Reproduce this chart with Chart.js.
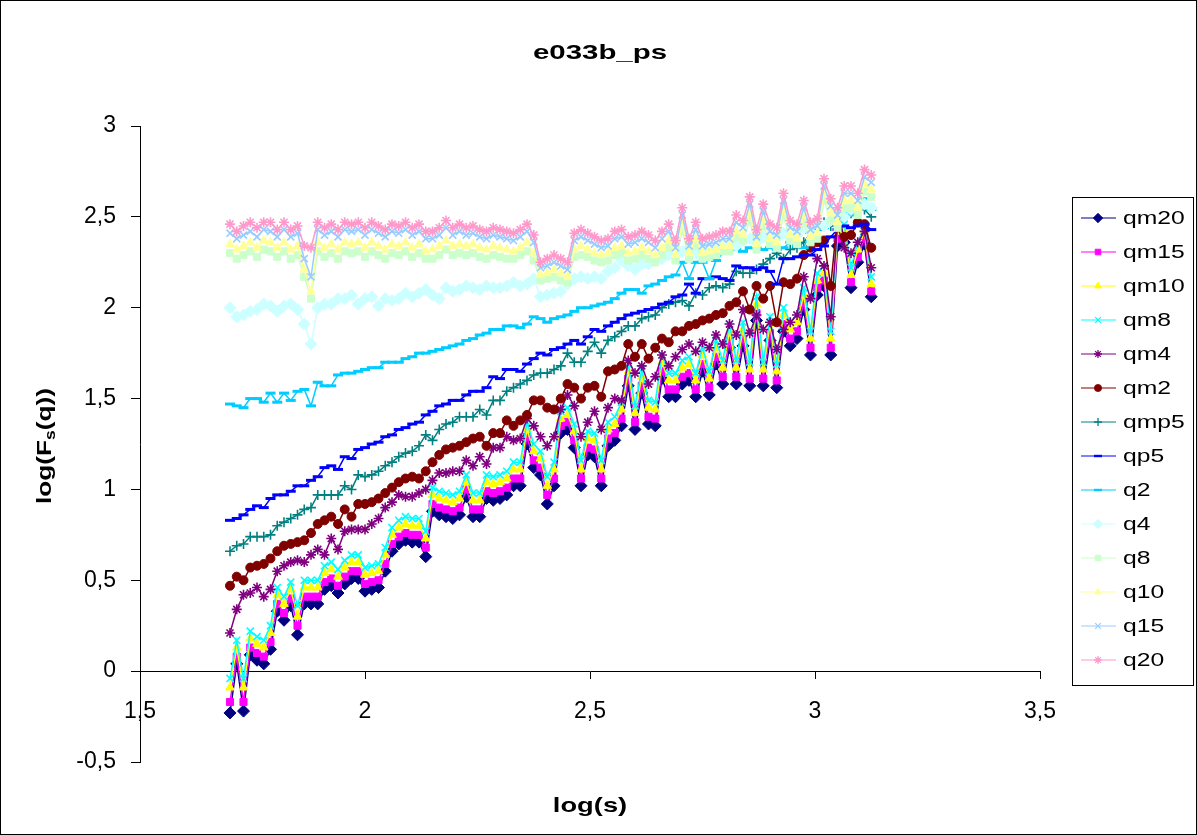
<!DOCTYPE html>
<html lang="en">
<head>
<meta charset="UTF-8">
<title>e033b_ps</title>
<script src="https://cdn.jsdelivr.net/npm/chart.js"></script>
<style>
  html, body { margin: 0; padding: 0; background: #fff; }
</style>
</head>
<body>
<canvas id="fq" width="1197" height="835"></canvas>
<script>
// log(s) values, shared by every series
const logS = [
  1.700, 1.715, 1.730, 1.745, 1.760, 1.775, 1.790, 1.805, 1.820, 1.835,
  1.850, 1.865, 1.880, 1.895, 1.910, 1.925, 1.940, 1.955, 1.970, 1.985,
  2.000, 2.015, 2.030, 2.045, 2.060, 2.075, 2.090, 2.105, 2.120, 2.135,
  2.150, 2.165, 2.180, 2.195, 2.210, 2.225, 2.240, 2.255, 2.270, 2.285,
  2.300, 2.315, 2.330, 2.345, 2.360, 2.375, 2.390, 2.405, 2.420, 2.435,
  2.450, 2.465, 2.480, 2.495, 2.510, 2.525, 2.540, 2.555, 2.570, 2.585,
  2.600, 2.615, 2.630, 2.645, 2.660, 2.675, 2.690, 2.705, 2.720, 2.735,
  2.750, 2.765, 2.780, 2.795, 2.810, 2.825, 2.840, 2.855, 2.870, 2.885,
  2.900, 2.915, 2.930, 2.945, 2.960, 2.975, 2.990, 3.005, 3.020, 3.035,
  3.050, 3.065, 3.080, 3.095, 3.110, 3.125
];

const qm20 = [
  -0.23, 0.04, -0.22, 0.09, 0.06, 0.04, 0.12, 0.33, 0.28, 0.36,
  0.20, 0.37, 0.37, 0.37, 0.45, 0.47, 0.43, 0.48, 0.51, 0.51,
  0.44, 0.45, 0.46, 0.55, 0.66, 0.70, 0.72, 0.71, 0.71, 0.63,
  0.88, 0.86, 0.85, 0.84, 0.86, 0.96, 0.85, 0.85, 0.95, 0.94,
  0.95, 0.97, 1.02, 1.02, 1.25, 1.12, 1.08, 0.92, 1.02, 1.31,
  1.33, 1.23, 1.02, 1.19, 1.18, 1.02, 1.24, 1.27, 1.35, 1.57,
  1.33, 1.53, 1.36, 1.35, 1.61, 1.51, 1.51, 1.58, 1.60, 1.51,
  1.65, 1.52, 1.69, 1.58, 1.78, 1.58, 1.79, 1.57, 1.93, 1.57,
  1.82, 1.56, 1.87, 1.79, 1.83, 1.99, 1.74, 2.07, 2.12, 1.74,
  2.34, 2.36, 2.11, 2.25, 2.35, 2.06
];
const qm15 = [
  -0.17, 0.08, -0.17, 0.13, 0.10, 0.08, 0.16, 0.37, 0.32, 0.40,
  0.25, 0.41, 0.41, 0.41, 0.49, 0.51, 0.47, 0.52, 0.55, 0.55,
  0.48, 0.49, 0.50, 0.59, 0.70, 0.74, 0.76, 0.75, 0.75, 0.68,
  0.92, 0.90, 0.89, 0.88, 0.90, 1.00, 0.89, 0.89, 0.99, 0.98,
  0.99, 1.01, 1.06, 1.06, 1.29, 1.16, 1.12, 0.97, 1.06, 1.35,
  1.37, 1.27, 1.06, 1.23, 1.22, 1.06, 1.28, 1.31, 1.39, 1.61,
  1.37, 1.57, 1.40, 1.39, 1.65, 1.55, 1.55, 1.62, 1.64, 1.55,
  1.69, 1.56, 1.73, 1.62, 1.82, 1.62, 1.83, 1.61, 1.97, 1.61,
  1.86, 1.60, 1.91, 1.83, 1.87, 2.03, 1.78, 2.11, 2.15, 1.78,
  2.38, 2.39, 2.14, 2.28, 2.38, 2.09
];
const qm10 = [
  -0.09, 0.13, -0.09, 0.18, 0.15, 0.13, 0.21, 0.42, 0.37, 0.45,
  0.30, 0.46, 0.46, 0.46, 0.54, 0.56, 0.52, 0.57, 0.60, 0.60,
  0.53, 0.54, 0.55, 0.64, 0.75, 0.79, 0.81, 0.80, 0.80, 0.73,
  0.97, 0.95, 0.94, 0.93, 0.95, 1.04, 0.94, 0.94, 1.04, 1.03,
  1.04, 1.06, 1.11, 1.11, 1.33, 1.21, 1.17, 1.02, 1.11, 1.39,
  1.41, 1.32, 1.11, 1.28, 1.27, 1.11, 1.33, 1.36, 1.44, 1.65,
  1.42, 1.62, 1.45, 1.44, 1.70, 1.60, 1.60, 1.67, 1.69, 1.60,
  1.74, 1.61, 1.78, 1.67, 1.87, 1.67, 1.88, 1.66, 2.02, 1.66,
  1.91, 1.65, 1.96, 1.88, 1.92, 2.07, 1.83, 2.15, 2.19, 1.83,
  2.42, 2.43, 2.18, 2.32, 2.42, 2.13
];
const qm8 = [
  -0.04, 0.17, -0.04, 0.22, 0.19, 0.17, 0.25, 0.46, 0.41, 0.49,
  0.36, 0.50, 0.50, 0.50, 0.58, 0.60, 0.56, 0.61, 0.64, 0.64,
  0.57, 0.58, 0.59, 0.68, 0.79, 0.83, 0.85, 0.84, 0.84, 0.77,
  1.01, 0.99, 0.98, 0.97, 0.99, 1.08, 0.98, 0.98, 1.08, 1.07,
  1.08, 1.10, 1.15, 1.15, 1.37, 1.25, 1.21, 1.07, 1.15, 1.43,
  1.45, 1.36, 1.16, 1.32, 1.31, 1.16, 1.37, 1.40, 1.48, 1.69,
  1.46, 1.66, 1.49, 1.48, 1.74, 1.64, 1.64, 1.71, 1.73, 1.64,
  1.78, 1.65, 1.82, 1.71, 1.91, 1.71, 1.92, 1.70, 2.06, 1.70,
  1.95, 1.69, 2.00, 1.92, 1.96, 2.11, 1.87, 2.19, 2.23, 1.87,
  2.46, 2.46, 2.22, 2.36, 2.45, 2.17
];
const qm4 = [
  0.21, 0.34, 0.42, 0.43, 0.46, 0.41, 0.45, 0.55, 0.58, 0.60,
  0.61, 0.60, 0.64, 0.67, 0.64, 0.73, 0.67, 0.77, 0.78, 0.78,
  0.78, 0.81, 0.84, 0.90, 0.93, 0.97, 0.96, 0.96, 0.98, 1.00,
  1.05, 1.09, 1.09, 1.10, 1.10, 1.16, 1.13, 1.18, 1.14, 1.23,
  1.23, 1.29, 1.27, 1.28, 1.39, 1.35, 1.29, 1.24, 1.29, 1.44,
  1.52, 1.46, 1.29, 1.37, 1.43, 1.33, 1.45, 1.50, 1.49, 1.71,
  1.64, 1.68, 1.58, 1.62, 1.74, 1.68, 1.73, 1.77, 1.80, 1.76,
  1.81, 1.78, 1.85, 1.80, 1.91, 1.85, 1.99, 1.86, 1.96, 1.88,
  1.92, 1.77, 1.88, 1.92, 1.96, 2.17, 2.05, 2.27, 2.23, 1.95,
  2.45, 2.33, 2.30, 2.36, 2.42, 2.22
];
const qm2 = [
  0.47, 0.52, 0.50, 0.57, 0.58, 0.59, 0.62, 0.66, 0.69, 0.70,
  0.71, 0.72, 0.76, 0.81, 0.83, 0.85, 0.81, 0.89, 0.85, 0.92,
  0.92, 0.93, 0.95, 0.98, 1.01, 1.04, 1.06, 1.07, 1.06, 1.10,
  1.15, 1.19, 1.22, 1.23, 1.24, 1.26, 1.28, 1.29, 1.24, 1.31,
  1.31, 1.38, 1.35, 1.38, 1.41, 1.49, 1.49, 1.45, 1.44, 1.50,
  1.58, 1.56, 1.50, 1.56, 1.57, 1.51, 1.65, 1.66, 1.68, 1.80,
  1.73, 1.80, 1.72, 1.78, 1.83, 1.81, 1.87, 1.87, 1.90, 1.91,
  1.93, 1.94, 1.96, 1.97, 2.01, 2.03, 2.09, 1.99, 2.12, 2.05,
  2.12, 1.92, 2.14, 2.13, 2.16, 2.29, 2.33, 2.36, 2.37, 2.12,
  2.50, 2.39, 2.40, 2.47, 2.46, 2.33
];
const qmp5 = [
  0.66, 0.69, 0.70, 0.74, 0.74, 0.74, 0.75, 0.80, 0.82, 0.84,
  0.86, 0.89, 0.90, 0.97, 0.97, 0.97, 0.97, 1.02, 1.00, 1.08,
  1.07, 1.08, 1.10, 1.13, 1.15, 1.18, 1.20, 1.21, 1.24, 1.30,
  1.27, 1.33, 1.36, 1.37, 1.40, 1.40, 1.40, 1.44, 1.41, 1.49,
  1.49, 1.54, 1.56, 1.58, 1.60, 1.63, 1.64, 1.64, 1.66, 1.68,
  1.75, 1.70, 1.70, 1.76, 1.81, 1.75, 1.82, 1.84, 1.87, 1.90,
  1.90, 1.94, 1.95, 1.96, 2.00, 2.02, 2.03, 2.04, 2.01, 2.08,
  2.07, 2.11, 2.12, 2.11, 2.13, 2.20, 2.19, 2.19, 2.21, 2.24,
  2.27, 2.30, 2.27, 2.32, 2.33, 2.36, 2.41, 2.43, 2.47, 2.45,
  2.50, 2.52, 2.52, 2.55, 2.54, 2.50
];
const qp5 = [
  0.83, 0.84, 0.86, 0.89, 0.91, 0.90, 0.95, 0.97, 0.97, 0.99,
  1.02, 1.02, 1.05, 1.07, 1.12, 1.13, 1.11, 1.18, 1.17, 1.22,
  1.23, 1.25, 1.26, 1.29, 1.30, 1.33, 1.34, 1.36, 1.37, 1.41,
  1.43, 1.46, 1.47, 1.49, 1.49, 1.52, 1.54, 1.54, 1.56, 1.62,
  1.61, 1.66, 1.66, 1.65, 1.69, 1.72, 1.75, 1.74, 1.77, 1.78,
  1.80, 1.82, 1.80, 1.84, 1.88, 1.87, 1.90, 1.92, 1.94, 1.96,
  1.97, 1.98, 1.99, 2.00, 2.02, 2.03, 2.06, 2.07, 2.13, 2.08,
  2.16, 2.16, 2.17, 2.16, 2.15, 2.23, 2.22, 2.22, 2.21, 2.22,
  2.20, 2.13, 2.27, 2.27, 2.28, 2.29, 2.29, 2.32, 2.34, 2.39,
  2.43, 2.45, 2.44, 2.45, 2.46, 2.43
];
const q2 = [
  1.47, 1.46, 1.45, 1.50, 1.50, 1.48, 1.53, 1.48, 1.53, 1.49,
  1.54, 1.55, 1.46, 1.59, 1.57, 1.57, 1.63, 1.64, 1.64, 1.65,
  1.66, 1.67, 1.67, 1.70, 1.70, 1.70, 1.72, 1.73, 1.75, 1.75,
  1.76, 1.77, 1.78, 1.79, 1.80, 1.82, 1.83, 1.85, 1.86, 1.88,
  1.88, 1.90, 1.90, 1.89, 1.91, 1.95, 1.94, 1.92, 1.94, 1.95,
  1.96, 1.98, 2.00, 2.00, 2.01, 2.02, 2.03, 2.05, 2.08, 2.10,
  2.10, 2.08, 2.12, 2.13, 2.15, 2.17, 2.18, 2.25, 2.16, 2.25,
  2.25, 2.16, 2.26, 2.30, 2.32, 2.32, 2.31, 2.33, 2.33, 2.32,
  2.33, 2.32, 2.33, 2.36, 2.34, 2.33, 2.42, 2.43, 2.44, 2.47,
  2.50, 2.52, 2.51, 2.55, 2.60, 2.54
];
const q4 = [
  2.00, 1.95, 1.96, 1.98, 1.99, 2.02, 2.01, 1.98, 2.01, 2.02,
  1.99, 1.91, 1.80, 2.00, 2.02, 2.02, 2.05, 2.05, 2.07, 2.02,
  2.05, 2.06, 2.01, 2.05, 2.04, 2.05, 2.08, 2.06, 2.08, 2.10,
  2.07, 2.05, 2.11, 2.09, 2.10, 2.12, 2.11, 2.10, 2.12, 2.11,
  2.11, 2.12, 2.14, 2.12, 2.13, 2.16, 2.06, 2.07, 2.08, 2.09,
  2.13, 2.16, 2.17, 2.16, 2.17, 2.16, 2.20, 2.22, 2.26, 2.23,
  2.21, 2.24, 2.24, 2.26, 2.27, 2.29, 2.28, 2.31, 2.33, 2.30,
  2.32, 2.33, 2.32, 2.34, 2.35, 2.34, 2.37, 2.38, 2.36, 2.39,
  2.37, 2.38, 2.41, 2.39, 2.40, 2.44, 2.42, 2.46, 2.45, 2.48,
  2.52, 2.50, 2.54, 2.55, 2.57, 2.55
];
const q8 = [
  2.30, 2.27, 2.29, 2.31, 2.28, 2.32, 2.31, 2.28, 2.31, 2.27,
  2.29, 2.17, 2.05, 2.31, 2.28, 2.30, 2.27, 2.31, 2.30, 2.31,
  2.28, 2.31, 2.29, 2.27, 2.30, 2.29, 2.31, 2.28, 2.30, 2.27,
  2.27, 2.29, 2.32, 2.29, 2.30, 2.29, 2.30, 2.28, 2.27, 2.29,
  2.28, 2.27, 2.27, 2.29, 2.31, 2.26, 2.15, 2.16, 2.17, 2.15,
  2.14, 2.28, 2.29, 2.28, 2.26, 2.25, 2.26, 2.29, 2.30, 2.26,
  2.27, 2.29, 2.27, 2.25, 2.29, 2.33, 2.26, 2.42, 2.27, 2.34,
  2.27, 2.28, 2.29, 2.31, 2.31, 2.39, 2.37, 2.48, 2.32, 2.45,
  2.35, 2.33, 2.51, 2.37, 2.35, 2.47, 2.36, 2.38, 2.59, 2.48,
  2.44, 2.55, 2.55, 2.51, 2.64, 2.61
];
const q10 = [
  2.35, 2.32, 2.34, 2.36, 2.33, 2.37, 2.36, 2.33, 2.36, 2.32,
  2.34, 2.21, 2.09, 2.36, 2.33, 2.35, 2.32, 2.36, 2.35, 2.36,
  2.33, 2.36, 2.34, 2.32, 2.35, 2.34, 2.36, 2.33, 2.35, 2.31,
  2.32, 2.34, 2.37, 2.34, 2.35, 2.34, 2.35, 2.33, 2.32, 2.34,
  2.33, 2.32, 2.31, 2.33, 2.36, 2.30, 2.18, 2.19, 2.21, 2.19,
  2.17, 2.32, 2.34, 2.32, 2.30, 2.29, 2.30, 2.33, 2.34, 2.30,
  2.31, 2.33, 2.31, 2.29, 2.33, 2.37, 2.29, 2.46, 2.30, 2.38,
  2.30, 2.31, 2.32, 2.34, 2.34, 2.42, 2.40, 2.52, 2.35, 2.49,
  2.38, 2.36, 2.55, 2.40, 2.38, 2.51, 2.39, 2.41, 2.63, 2.52,
  2.47, 2.59, 2.59, 2.55, 2.68, 2.65
];
const q15 = [
  2.41, 2.38, 2.40, 2.42, 2.39, 2.43, 2.42, 2.39, 2.43, 2.39,
  2.41, 2.27, 2.17, 2.43, 2.40, 2.42, 2.39, 2.43, 2.42, 2.43,
  2.40, 2.43, 2.41, 2.39, 2.42, 2.41, 2.43, 2.40, 2.42, 2.38,
  2.38, 2.40, 2.44, 2.40, 2.42, 2.40, 2.41, 2.39, 2.38, 2.40,
  2.39, 2.38, 2.37, 2.39, 2.42, 2.36, 2.22, 2.23, 2.25, 2.23,
  2.21, 2.37, 2.39, 2.37, 2.35, 2.33, 2.34, 2.38, 2.39, 2.35,
  2.36, 2.38, 2.36, 2.33, 2.38, 2.42, 2.33, 2.51, 2.34, 2.43,
  2.34, 2.35, 2.36, 2.38, 2.38, 2.47, 2.44, 2.57, 2.39, 2.53,
  2.42, 2.40, 2.59, 2.44, 2.42, 2.55, 2.43, 2.45, 2.67, 2.56,
  2.51, 2.63, 2.63, 2.59, 2.72, 2.69
];
const q20 = [
  2.46, 2.42, 2.45, 2.47, 2.44, 2.47, 2.47, 2.43, 2.47, 2.43,
  2.45, 2.34, 2.33, 2.47, 2.44, 2.46, 2.43, 2.47, 2.46, 2.47,
  2.44, 2.47, 2.45, 2.43, 2.46, 2.45, 2.47, 2.44, 2.46, 2.42,
  2.42, 2.44, 2.48, 2.44, 2.46, 2.44, 2.45, 2.43, 2.42, 2.44,
  2.43, 2.42, 2.41, 2.43, 2.46, 2.40, 2.25, 2.27, 2.29, 2.27,
  2.25, 2.41, 2.43, 2.41, 2.39, 2.37, 2.38, 2.42, 2.43, 2.39,
  2.40, 2.42, 2.40, 2.37, 2.42, 2.46, 2.37, 2.55, 2.38, 2.47,
  2.38, 2.39, 2.40, 2.42, 2.42, 2.51, 2.48, 2.61, 2.43, 2.57,
  2.46, 2.44, 2.63, 2.48, 2.46, 2.59, 2.47, 2.49, 2.71, 2.60,
  2.55, 2.67, 2.67, 2.63, 2.76, 2.73
];

const seriesNames = ['qm20', 'qm15', 'qm10', 'qm8', 'qm4', 'qm2', 'qmp5', 'qp5', 'q2', 'q4', 'q8', 'q10', 'q15', 'q20'];
const seriesValues = [qm20, qm15, qm10, qm8, qm4, qm2, qmp5, qp5, q2, q4, q8, q10, q15, q20];
const xTicks = [1.5, 2, 2.5, 3, 3.5];
const yTicks = [-0.5, 0, 0.5, 1, 1.5, 2, 2.5, 3];

const chartTitle = 'e033b_ps';
const xTitle = 'log(s)';

// marker look per series (Excel style)
const looks = [
  { color: '#000080', style: 'rectRot', r: 6 },
  { color: '#FF00FF', style: 'rect', r: 5 },
  { color: '#FFFF00', style: 'triangle', r: 5 },
  { color: '#00FFFF', style: 'crossRot', r: 5 },
  { color: '#800080', style: 'star', r: 5 },
  { color: '#800000', style: 'circle', r: 4.5 },
  { color: '#008080', style: 'cross', r: 5 },
  { color: '#0000FF', style: 'line', r: 5 },
  { color: '#00CCFF', style: 'line', r: 5 },
  { color: '#CCFFFF', style: 'rectRot', r: 6 },
  { color: '#CCFFCC', style: 'rect', r: 5 },
  { color: '#FFFF99', style: 'triangle', r: 5 },
  { color: '#99CCFF', style: 'crossRot', r: 5 },
  { color: '#FF99CC', style: 'star', r: 5 }
];
const openStyles = ['crossRot', 'cross', 'star', 'line'];

const FONT = '"Liberation Sans", Arial, sans-serif';
Chart.defaults.font.family = FONT;
Chart.defaults.color = '#000';

function markerWidth(style) {
  if (style === 'line') return 3;
  return openStyles.includes(style) ? 1.6 : 1;
}

const datasets = seriesValues.map((vals, k) => {
  const lk = looks[k];
  return {
    label: seriesNames[k],
    data: logS.map((x, i) => ({ x: x, y: vals[i] })),
    borderColor: lk.color,
    backgroundColor: lk.color,
    borderWidth: 1.5,
    pointStyle: lk.style,
    pointRadius: lk.r,
    pointBorderWidth: markerWidth(lk.style),
    pointBackgroundColor: lk.color,
    pointBorderColor: lk.color,
    tension: 0,
    order: seriesNames.length - k
  };
});

function fmt(v) {
  return String(v).replace('.', ',');
}

function marker(ctx, lk, x, y, r) {
  ctx.fillStyle = lk.color;
  ctx.strokeStyle = lk.color;
  const bw = markerWidth(lk.style) * 0.8;
  ctx.lineWidth = bw;
  if (Chart.helpers && Chart.helpers.drawPoint) {
    Chart.helpers.drawPoint(ctx, { pointStyle: lk.style, radius: r, rotation: 0, borderWidth: bw }, x, y);
  } else {
    ctx.beginPath();
    ctx.arc(x, y, r, 0, Math.PI * 2);
    ctx.fill();
  }
}

// text in the original picture is drawn wider than normal
function wideText(ctx, text, x, y, sx) {
  ctx.save();
  ctx.translate(x, y);
  ctx.scale(sx, 1);
  ctx.fillText(text, 0, 0);
  ctx.restore();
}

// titles, legend box and frame drawn like the Excel sheet
const decor = {
  id: 'decor',
  afterDraw(chart) {
    const ctx = chart.ctx;
    ctx.save();
    ctx.strokeStyle = '#000';
    ctx.lineWidth = 1;
    ctx.strokeRect(0.5, 0.5, chart.width - 1, chart.height - 1);

    ctx.fillStyle = '#000';
    ctx.textAlign = 'center';
    ctx.textBaseline = 'middle';
    ctx.font = 'bold 21px ' + FONT;
    wideText(ctx, chartTitle, 600, 53, 1.4);
    wideText(ctx, xTitle, 590, 806, 1.3);

    // y title with subscript s
    ctx.save();
    ctx.translate(44, 446);
    ctx.rotate(-Math.PI / 2);
    const big = 'bold 21px ' + FONT, small = 'bold 14px ' + FONT;
    const p1 = 'log(F', p2 = 's', p3 = '(q))';
    ctx.font = big;
    const w1 = ctx.measureText(p1).width, w3 = ctx.measureText(p3).width;
    ctx.font = small;
    const w2 = ctx.measureText(p2).width;
    const sy = 1.25;
    ctx.scale(sy, 1);
    let x0 = -(w1 + w2 + w3) / 2;
    ctx.textAlign = 'left';
    ctx.textBaseline = 'alphabetic';
    ctx.font = big; ctx.fillText(p1, x0, 7);
    ctx.font = small; ctx.fillText(p2, x0 + w1, 11);
    ctx.font = big; ctx.fillText(p3, x0 + w1 + w2, 7);
    ctx.restore();

    // legend
    ctx.strokeStyle = '#000';
    ctx.lineWidth = 1;
    ctx.strokeRect(1072.5, 197.5, 121, 488);
    ctx.font = '19px ' + FONT;
    ctx.textAlign = 'left';
    ctx.textBaseline = 'middle';
    seriesNames.forEach((name, k) => {
      const y = 218 + k * 34;
      const lk = looks[k];
      ctx.strokeStyle = lk.color;
      ctx.lineWidth = 1;
      ctx.beginPath();
      ctx.moveTo(1081, y);
      ctx.lineTo(1116, y);
      ctx.stroke();
      marker(ctx, lk, 1098, y, lk.r * 0.8);
      ctx.fillStyle = '#000';
      wideText(ctx, name, 1123, y + 1, 1.3);
    });
    ctx.restore();
  }
};

new Chart(document.getElementById('fq'), {
  type: 'line',
  data: { datasets: datasets },
  options: {
    responsive: false,
    animation: false,
    layout: { padding: { left: 0, top: 126, right: 157, bottom: 73 } },
    plugins: {
      legend: { display: false },
      tooltip: { enabled: false },
      title: { display: false }
    },
    scales: {
      x: {
        type: 'linear',
        position: { y: 0 },
        min: 1.5,
        max: 3.5,
        afterBuildTicks(scale) { scale.ticks = xTicks.map(v => ({ value: v })); },
        afterFit(scale) { scale.paddingLeft = 0; scale.paddingRight = 0; },
        ticks: {
          font: { size: 23 },
          padding: 20,
          maxRotation: 0,
          callback: v => fmt(v)
        },
        grid: { drawOnChartArea: false, tickLength: 7, color: '#000' },
        border: { color: '#000', width: 1 }
      },
      y: {
        type: 'linear',
        min: -0.5,
        max: 3,
        afterBuildTicks(scale) { scale.ticks = yTicks.map(v => ({ value: v })); },
        afterFit(scale) { scale.width = 140; scale.paddingTop = 0; scale.paddingBottom = 0; },
        ticks: {
          font: { size: 23 },
          padding: 15,
          callback: v => fmt(v)
        },
        grid: { drawOnChartArea: false, tickLength: 9, color: '#000' },
        border: { color: '#000', width: 1 }
      }
    }
  },
  plugins: [decor]
});
</script>
</body>
</html>
